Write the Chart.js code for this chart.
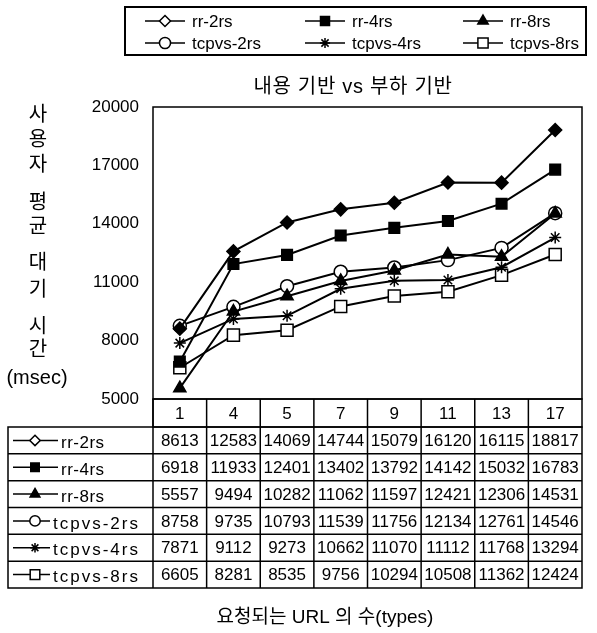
<!DOCTYPE html>
<html>
<head>
<meta charset="utf-8">
<script src="https://cdn.jsdelivr.net/npm/chart.js@4/dist/chart.umd.min.js"></script>
<style>
  html, body { margin: 0; padding: 0; background: #fff; }
</style>
</head>
<body>
<canvas id="chart" width="597" height="633"></canvas>
<script>
// data
const categories = ['1', '4', '5', '7', '9', '11', '13', '17'];
const seriesNames = ['rr-2rs', 'rr-4rs', 'rr-8rs', 'tcpvs-2rs', 'tcpvs-4rs', 'tcpvs-8rs'];
const rr2rs = [8613, 12583, 14069, 14744, 15079, 16120, 16115, 18817];
const rr4rs = [6918, 11933, 12401, 13402, 13792, 14142, 15032, 16783];
const rr8rs = [5557, 9494, 10282, 11062, 11597, 12421, 12306, 14531];
const tcpvs2rs = [8758, 9735, 10793, 11539, 11756, 12134, 12761, 14546];
const tcpvs4rs = [7871, 9112, 9273, 10662, 11070, 11112, 11768, 13294];
const tcpvs8rs = [6605, 8281, 8535, 9756, 10294, 10508, 11362, 12424];
const yTicks = [5000, 8000, 11000, 14000, 17000, 20000];

const titleText = '내용 기반 vs 부하 기반';
const xTitle = '요청되는 URL 의 수(types)';
const yTitle = ['사', '용', '자', '평', '균', '대', '기', '시', '간', '(msec)'];

const FONT = '"Liberation Sans", "Noto Sans CJK KR", sans-serif';

const styles = [
    { pointStyle: 'rectRot', radius: 6.5, fill: '#000' },
    { pointStyle: 'rect', radius: 7.5, fill: '#000' },
    { pointStyle: 'triangle', radius: 7, fill: '#000' },
    { pointStyle: 'circle', radius: 6.5, fill: '#fff' },
    { pointStyle: 'star', radius: 6, fill: '#fff' },
    { pointStyle: 'rect', radius: 8.5, fill: '#fff' }
];
const allSeries = [rr2rs, rr4rs, rr8rs, tcpvs2rs, tcpvs4rs, tcpvs8rs];

// small marker drawer for the legends
function drawMarker(ctx, style, x, y, r, fill) {
    ctx.save();
    ctx.fillStyle = fill;
    ctx.strokeStyle = '#000';
    ctx.lineWidth = 1.5;
    ctx.beginPath();
    if (style === 'rectRot') {
        ctx.moveTo(x, y - r); ctx.lineTo(x + r, y); ctx.lineTo(x, y + r); ctx.lineTo(x - r, y); ctx.closePath();
        ctx.fill(); ctx.stroke();
    } else if (style === 'rect') {
        const s = r * Math.SQRT1_2;
        ctx.rect(x - s, y - s, 2 * s, 2 * s);
        ctx.fill(); ctx.stroke();
    } else if (style === 'triangle') {
        ctx.moveTo(x, y - r); ctx.lineTo(x + r * 0.87, y + r * 0.5); ctx.lineTo(x - r * 0.87, y + r * 0.5); ctx.closePath();
        ctx.fill(); ctx.stroke();
    } else if (style === 'circle') {
        ctx.arc(x, y, r, 0, Math.PI * 2);
        ctx.fill(); ctx.stroke();
    } else if (style === 'star') {
        ctx.moveTo(x - r, y); ctx.lineTo(x + r, y);
        ctx.moveTo(x, y - r); ctx.lineTo(x, y + r);
        const d = r * Math.SQRT1_2;
        ctx.moveTo(x - d, y - d); ctx.lineTo(x + d, y + d);
        ctx.moveTo(x - d, y + d); ctx.lineTo(x + d, y - d);
        ctx.stroke();
    }
    ctx.restore();
}

const decorations = {
    id: 'decorations',
    afterDraw(chart) {
        const ctx = chart.ctx;
        const area = chart.chartArea;
        const x = chart.scales.x;
        const colW = area.width / categories.length;

        ctx.save();
        ctx.strokeStyle = '#000';
        ctx.fillStyle = '#000';

        // plot frame
        ctx.lineWidth = 1.5;
        ctx.strokeRect(area.left, area.top, area.width, area.height);

        // title
        ctx.font = '20px ' + FONT;
        ctx.letterSpacing = '0.7px';
        ctx.textAlign = 'center';
        ctx.textBaseline = 'middle';
        ctx.fillText(titleText, 353, 87);

        // vertical y title
        ctx.letterSpacing = '0px';
        const yPos = [115, 140, 165, 203, 227, 263, 290, 327, 350, 378];
        yTitle.forEach((t, i) => {
            ctx.font = '20px ' + FONT;
            ctx.fillText(t, t.length > 1 ? 37 : 38, yPos[i]);
        });

        // x title
        ctx.font = '19px ' + FONT;
        ctx.fillText(xTitle, 325, 618);

        // top legend box
        ctx.lineWidth = 2;
        ctx.strokeRect(125, 7, 461, 48);
        ctx.font = '17px ' + FONT;
        ctx.textAlign = 'left';
        const legCols = [192, 352, 510];
        const legRows = [21, 43];
        seriesNames.forEach((name, i) => {
            const cx = legCols[i % 3];
            const cy = legRows[Math.floor(i / 3)];
            ctx.lineWidth = 1.5;
            ctx.beginPath();
            ctx.moveTo(cx - 47, cy); ctx.lineTo(cx - 7, cy);
            ctx.stroke();
            const st = styles[i];
            drawMarker(ctx, st.pointStyle, cx - 27, cy, st.radius * 0.85, i === 0 ? '#fff' : st.fill);
            ctx.fillStyle = '#000';
            ctx.fillText(name, cx, cy + 1);
        });

        // data table
        const headTop = area.bottom;
        const rowTop = 427;
        const rowH = (588 - rowTop) / seriesNames.length;
        const tableLeft = 8;
        ctx.lineWidth = 1.5;
        // header row
        ctx.strokeRect(area.left, headTop, area.width, rowTop - headTop);
        // body
        ctx.strokeRect(tableLeft, rowTop, area.right - tableLeft, rowH * seriesNames.length);
        for (let r = 1; r < seriesNames.length; r++) {
            ctx.beginPath();
            ctx.moveTo(tableLeft, rowTop + r * rowH);
            ctx.lineTo(area.right, rowTop + r * rowH);
            ctx.stroke();
        }
        for (let c = 0; c < categories.length; c++) {
            const lx = x.getPixelForValue(c) - colW / 2;
            ctx.beginPath();
            ctx.moveTo(lx, headTop);
            ctx.lineTo(lx, rowTop + rowH * seriesNames.length);
            ctx.stroke();
        }
        ctx.font = '17px ' + FONT;
        ctx.textAlign = 'center';
        categories.forEach((c, i) => {
            ctx.fillText(c, x.getPixelForValue(i), (headTop + rowTop) / 2 + 1);
        });
        allSeries.forEach((vals, r) => {
            const cy = rowTop + rowH * (r + 0.5) + 1;
            vals.forEach((v, i) => {
                ctx.fillText(String(v), x.getPixelForValue(i), cy);
            });
        });
        // row labels
        ctx.textAlign = 'left';
        seriesNames.forEach((name, r) => {
            const cy = rowTop + rowH * (r + 0.5);
            const isRR = r < 3;
            ctx.lineWidth = 1.5;
            ctx.beginPath();
            ctx.moveTo(13, cy); ctx.lineTo(isRR ? 58 : 50, cy);
            ctx.stroke();
            const st = styles[r];
            drawMarker(ctx, st.pointStyle, 35, cy, st.radius * 0.8, r === 0 ? '#fff' : st.fill);
            ctx.fillStyle = '#000';
            ctx.letterSpacing = isRR ? '0.5px' : '2px';
            ctx.fillText(name, isRR ? 61 : 53, cy + 3);
        });
        ctx.letterSpacing = '0px';
        ctx.restore();
    }
};

new Chart(document.getElementById('chart'), {
    type: 'line',
    data: {
        labels: categories,
        datasets: allSeries.map((vals, i) => ({
            label: seriesNames[i],
            data: vals,
            borderColor: '#000',
            borderWidth: 2,
            tension: 0,
            pointStyle: styles[i].pointStyle,
            pointRadius: styles[i].radius,
            pointBackgroundColor: styles[i].fill,
            pointBorderColor: '#000',
            pointBorderWidth: 1.5
        }))
    },
    options: {
        responsive: false,
        animation: false,
        layout: { padding: { top: 107, bottom: 234, right: 15, left: 0 } },
        plugins: {
            legend: { display: false },
            title: { display: false },
            tooltip: { enabled: false }
        },
        scales: {
            x: {
                type: 'category',
                display: false,
                offset: true
            },
            y: {
                min: 5000,
                max: 20000,
                afterFit(scale) { scale.width = 153; },
                afterBuildTicks(scale) { scale.ticks = yTicks.map(v => ({ value: v })); },
                grid: { display: false },
                border: { display: false },
                ticks: {
                    color: '#000',
                    padding: 6,
                    font: { family: FONT, size: 17 },
                    callback: v => String(v)
                }
            }
        }
    },
    plugins: [decorations]
});
</script>
</body>
</html>
